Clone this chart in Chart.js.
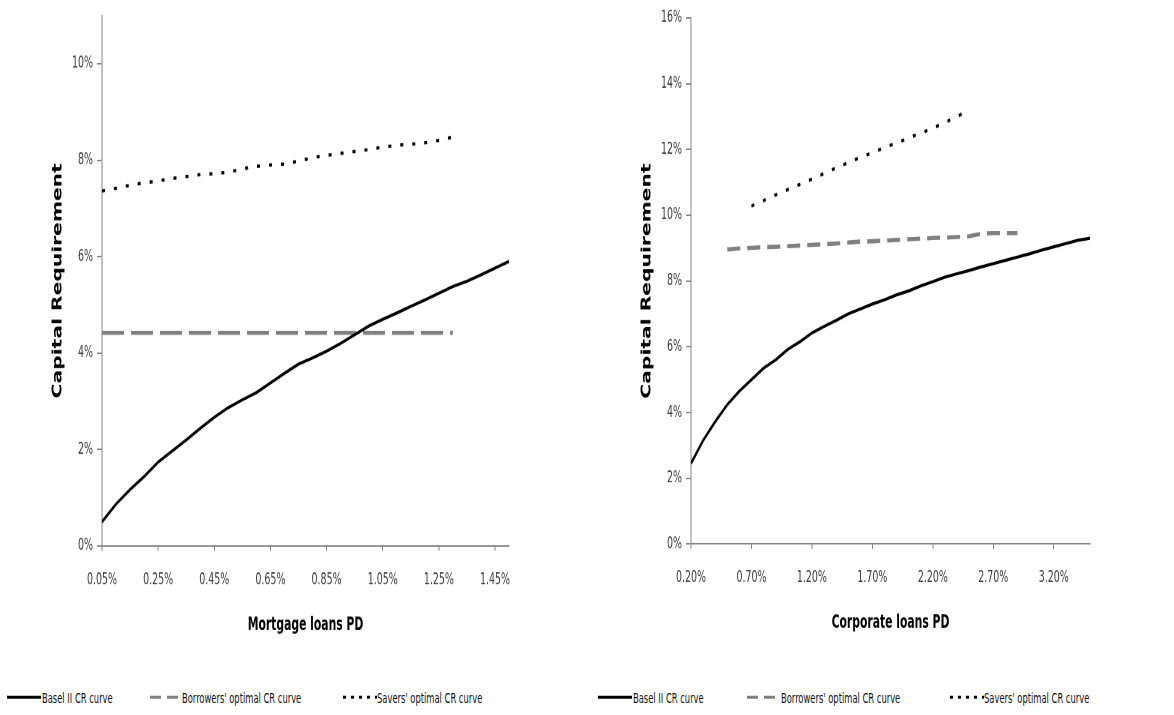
<!DOCTYPE html>
<html lang="en">
<head>
<meta charset="UTF-8">
<title>Capital requirement curves</title>
<script src="https://cdn.jsdelivr.net/npm/chart.js"></script>
<style>
    body { margin: 0; background: #fff; }
    .wrap { position: relative; width: 1174px; height: 715px; overflow: hidden; }
    /* the original figure is stretched vertically by about 1.5, so the charts are drawn at 2/3 height and scaled */
    canvas { position: absolute; top: 0; transform: scaleY(1.5); transform-origin: 0 0; }
    .leg { position: absolute; left: 0; top: 689px; width: 1174px; height: 11px; transform: scaleY(1.5); transform-origin: 0 0; }
    .leg svg { position: absolute; top: 0; }
    .leg span {
        position: absolute; top: 0; line-height: 11px; white-space: nowrap;
        font: 9.3px "DejaVu Sans Condensed", "DejaVu Sans", sans-serif; color: #111;
    }
</style>
</head>
<body>
<div class="wrap">
    <canvas id="mortgage" width="587" height="434" style="left:0"></canvas>
    <canvas id="corporate" width="587" height="434" style="left:587px"></canvas>

    <div class="leg">
        <svg style="left:7px" width="34" height="11"><line x1="0" y1="5.5" x2="34" y2="5.5" stroke="#000" stroke-width="2"/></svg>
        <span style="left:42px">Basel II CR curve</span>
        <svg style="left:150px" width="30" height="11"><line x1="0" y1="5.5" x2="30" y2="5.5" stroke="#808080" stroke-width="2" stroke-dasharray="11 6"/></svg>
        <span style="left:182px">Borrowers' optimal CR curve</span>
        <svg style="left:343px" width="34" height="11"><line x1="0" y1="5.5" x2="34" y2="5.5" stroke="#000" stroke-width="2" stroke-dasharray="3 5"/></svg>
        <span style="left:377px">Savers' optimal CR curve</span>

        <svg style="left:598px" width="34" height="11"><line x1="0" y1="5.5" x2="34" y2="5.5" stroke="#000" stroke-width="2"/></svg>
        <span style="left:633px">Basel II CR curve</span>
        <svg style="left:747px" width="31" height="11"><line x1="0" y1="5.5" x2="31" y2="5.5" stroke="#808080" stroke-width="2" stroke-dasharray="11 6"/></svg>
        <span style="left:781px">Borrowers' optimal CR curve</span>
        <svg style="left:950px" width="34" height="11"><line x1="0" y1="5.5" x2="34" y2="5.5" stroke="#000" stroke-width="2" stroke-dasharray="3 5"/></svg>
        <span style="left:984px">Savers' optimal CR curve</span>
    </div>
</div>

<script>
    // mortgage loans (PD in %, capital requirement in %)
    const mortgagePD = [0.05, 0.10, 0.15, 0.20, 0.25, 0.30, 0.35, 0.40, 0.45, 0.50,
        0.55, 0.60, 0.65, 0.70, 0.75, 0.80, 0.85, 0.90, 0.95, 1.00,
        1.05, 1.10, 1.15, 1.20, 1.25, 1.30, 1.35, 1.40, 1.45, 1.50];
    const mortgageBasel = [0.50, 0.87, 1.17, 1.44, 1.74, 1.97, 2.20, 2.44, 2.67, 2.87,
        3.03, 3.18, 3.38, 3.58, 3.77, 3.90, 4.04, 4.20, 4.38, 4.56,
        4.70, 4.83, 4.97, 5.10, 5.24, 5.38, 5.49, 5.62, 5.76, 5.90];
    const mortgageBorrowers = [4.42, 4.42, 4.42, 4.42, 4.42, 4.42, 4.42, 4.42, 4.42, 4.42,
        4.42, 4.42, 4.42, 4.42, 4.42, 4.42, 4.42, 4.42, 4.42, 4.42,
        4.42, 4.42, 4.42, 4.42, 4.42, 4.42];
    const mortgageSavers = [7.36, 7.42, 7.48, 7.53, 7.57, 7.62, 7.66, 7.70, 7.72, 7.75,
        7.82, 7.87, 7.90, 7.92, 7.98, 8.05, 8.10, 8.14, 8.18, 8.22,
        8.27, 8.31, 8.33, 8.36, 8.41, 8.48];
    const mortgageXTicks = [0.05, 0.25, 0.45, 0.65, 0.85, 1.05, 1.25, 1.45];
    const mortgageYTicks = [0, 2, 4, 6, 8, 10];

    // corporate loans
    const corporatePD = [0.2, 0.3, 0.4, 0.5, 0.6, 0.7, 0.8, 0.9, 1.0, 1.1,
        1.2, 1.3, 1.4, 1.5, 1.6, 1.7, 1.8, 1.9, 2.0, 2.1,
        2.2, 2.3, 2.4, 2.5, 2.6, 2.7, 2.8, 2.9, 3.0, 3.1,
        3.2, 3.3, 3.4, 3.5];
    const corporateBasel = [2.45, 3.15, 3.72, 4.24, 4.65, 5.00, 5.35, 5.60, 5.92, 6.15,
        6.42, 6.62, 6.80, 7.00, 7.15, 7.30, 7.43, 7.58, 7.70, 7.85,
        7.98, 8.12, 8.22, 8.32, 8.43, 8.53, 8.63, 8.73, 8.83, 8.94,
        9.04, 9.14, 9.24, 9.30];
    const corporateBorrowersPD = [0.5, 0.6, 0.7, 0.8, 0.9, 1.0, 1.1, 1.2, 1.3, 1.4,
        1.5, 1.6, 1.7, 1.8, 1.9, 2.0, 2.1, 2.2, 2.3, 2.4,
        2.5, 2.6, 2.7, 2.8, 2.9];
    const corporateBorrowers = [8.96, 8.99, 9.01, 9.03, 9.04, 9.06, 9.08, 9.10, 9.12, 9.14,
        9.17, 9.20, 9.21, 9.23, 9.25, 9.27, 9.29, 9.31, 9.32, 9.34,
        9.36, 9.44, 9.46, 9.46, 9.46];
    const corporateSaversPD = [0.7, 0.8, 0.9, 1.0, 1.1, 1.2, 1.3, 1.4, 1.5, 1.6,
        1.7, 1.8, 1.9, 2.0, 2.1, 2.2, 2.3, 2.4, 2.5];
    const corporateSavers = [10.28, 10.45, 10.62, 10.78, 10.94, 11.10, 11.27, 11.44, 11.60, 11.76,
        11.90, 12.06, 12.20, 12.35, 12.50, 12.65, 12.82, 13.00, 13.20];
    const corporateXTicks = [0.2, 0.7, 1.2, 1.7, 2.2, 2.7, 3.2];
    const corporateYTicks = [0, 2, 4, 6, 8, 10, 12, 14, 16];

    const condensed = '"DejaVu Sans Condensed", "DejaVu Sans", sans-serif';
    const axisGray = '#868686';

    function pts(xs, ys) {
        return ys.map((y, i) => ({ x: xs[i], y: y }));
    }

    function makeChart(id, cfg) {
        return new Chart(document.getElementById(id), {
            type: 'line',
            data: {
                datasets: [
                    { data: pts(cfg.pd, cfg.basel), borderColor: '#000', borderWidth: 2.1 },
                    { data: pts(cfg.borrowersPD, cfg.borrowers), borderColor: '#808080', borderWidth: 2.8, borderDash: cfg.dash },
                    { data: pts(cfg.saversPD, cfg.savers), borderColor: '#000', borderWidth: 2.2, borderDash: [3, 9] }
                ]
            },
            options: {
                responsive: false,
                animation: false,
                devicePixelRatio: 2,
                layout: { padding: cfg.padding },
                elements: { point: { radius: 0 }, line: { tension: 0, borderCapStyle: 'butt' } },
                plugins: { legend: { display: false }, tooltip: { enabled: false } },
                scales: {
                    x: {
                        type: 'linear',
                        min: cfg.xMin,
                        max: cfg.xMax,
                        afterBuildTicks: s => { s.ticks = cfg.xTicks.map(v => ({ value: v })); },
                        afterFit: s => { s.height = cfg.xHeight; },
                        border: { color: axisGray },
                        grid: { drawOnChartArea: false, color: axisGray, tickLength: 3.3 },
                        ticks: {
                            padding: 13,
                            maxRotation: 0,
                            color: '#3a3a3a',
                            font: { family: condensed, size: 10.5 },
                            callback: v => v.toFixed(2) + '%'
                        },
                        title: {
                            display: true,
                            text: cfg.xTitle,
                            color: '#000',
                            font: { family: condensed, size: 12, weight: 'bold' },
                            padding: { top: 0, bottom: cfg.xTitlePad }
                        }
                    },
                    y: {
                        min: 0,
                        max: cfg.yMax,
                        afterBuildTicks: s => { s.ticks = cfg.yTicks.map(v => ({ value: v })); },
                        afterFit: s => { s.width = cfg.yWidth; },
                        border: { color: axisGray },
                        grid: { drawOnChartArea: false, color: axisGray, tickLength: 5 },
                        ticks: {
                            padding: 4,
                            color: '#3a3a3a',
                            font: { family: condensed, size: 10.5 },
                            callback: v => v + '%'
                        },
                        title: {
                            display: true,
                            text: 'Capital Requirement',
                            color: '#000',
                            font: { family: '"DejaVu Sans", sans-serif', size: 13.5, weight: 'bold' },
                            padding: { top: cfg.yTitlePad, bottom: 0 }
                        }
                    }
                }
            }
        });
    }

    makeChart('mortgage', {
        pd: mortgagePD, basel: mortgageBasel,
        borrowersPD: mortgagePD, borrowers: mortgageBorrowers,
        saversPD: mortgagePD, savers: mortgageSavers,
        xTicks: mortgageXTicks, yTicks: mortgageYTicks,
        xMin: 0.05, xMax: 1.5, yMax: 11,
        dash: [22, 7],
        xTitle: 'Mortgage loans PD',
        padding: { top: 8.7, right: 78, bottom: 0, left: 0 },
        xHeight: 70, yWidth: 102,
        xTitlePad: 10, yTitlePad: 50
    });

    makeChart('corporate', {
        pd: corporatePD, basel: corporateBasel,
        borrowersPD: corporateBorrowersPD, borrowers: corporateBorrowers,
        saversPD: corporateSaversPD, savers: corporateSavers,
        xTicks: corporateXTicks, yTicks: corporateYTicks,
        xMin: 0.2, xMax: 3.5, yMax: 16,
        dash: [13, 7],
        xTitle: 'Corporate loans PD',
        padding: { top: 12, right: 84, bottom: 0, left: 0 },
        xHeight: 71.3, yWidth: 104,
        xTitlePad: 11.5, yTitlePad: 52
    });
</script>
</body>
</html>
